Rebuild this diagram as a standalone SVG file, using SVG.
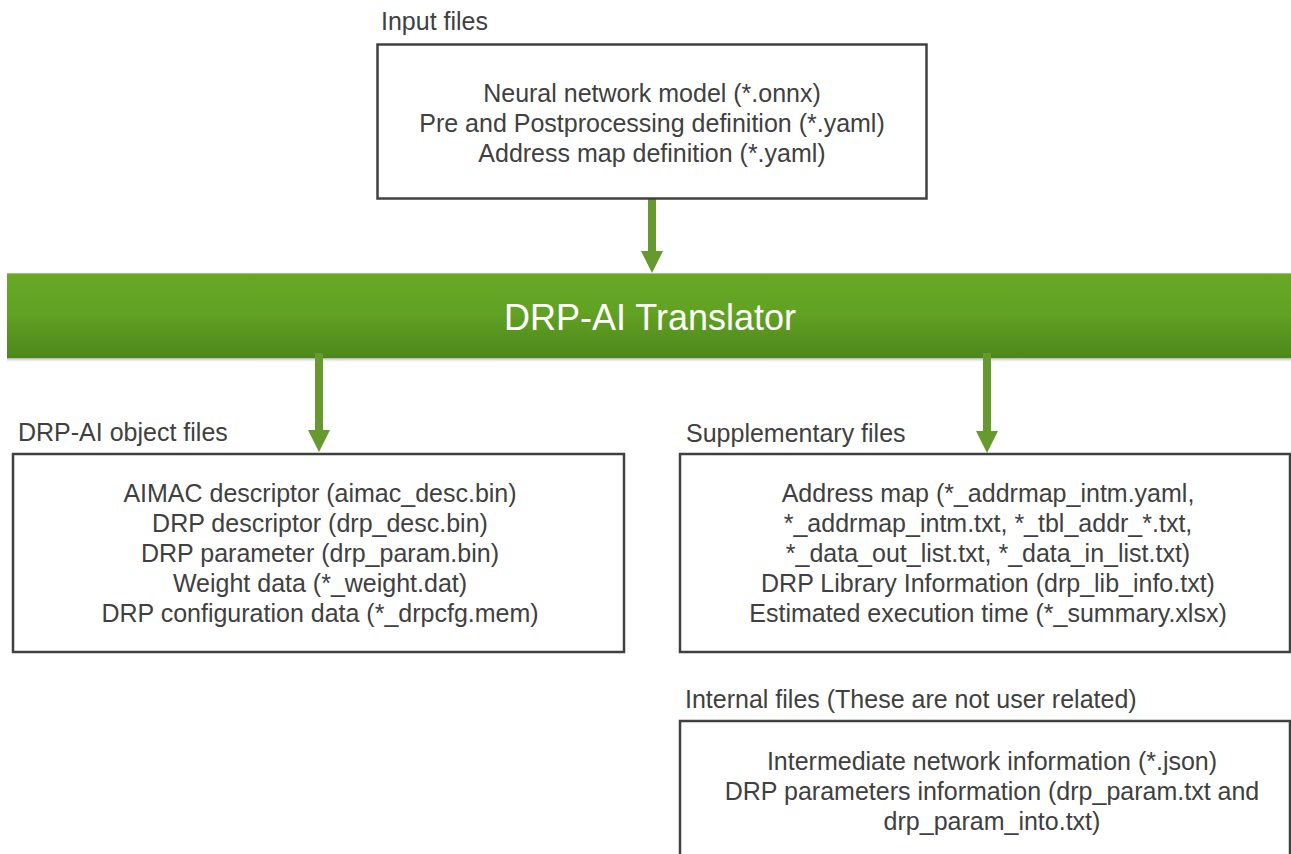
<svg xmlns="http://www.w3.org/2000/svg" width="1291" height="854" viewBox="0 0 1291 854">
<defs>
<linearGradient id="g" x1="0" y1="0" x2="0" y2="1">
<stop offset="0" stop-color="#68a826"/>
<stop offset="0.45" stop-color="#62a223"/>
<stop offset="1" stop-color="#4d871c"/>
</linearGradient>
<linearGradient id="sh" x1="0" y1="0" x2="0" y2="1">
<stop offset="0" stop-color="#b0b0b0"/>
<stop offset="1" stop-color="#ffffff" stop-opacity="0"/>
</linearGradient>
<style>
.box{fill:#fff;stroke:#404040;stroke-width:2.5}
.t{font-family:"Liberation Sans",Arial,sans-serif;font-size:25px;fill:#404040}
.c{text-anchor:middle}
.conn{stroke:#66992e;stroke-width:8;fill:none}
.head{fill:#66992e}
</style>
</defs>
<rect width="1291" height="854" fill="#fff"/>

<g id="translator">
<rect x="7" y="358" width="1284" height="5" fill="url(#sh)"/>
<rect x="7" y="273" width="1284" height="85" fill="url(#g)"/>
<line x1="7" y1="273.5" x2="1291" y2="273.5" stroke="#9cc47a" stroke-width="1"/>
<text x="650" y="330" font-family="Liberation Sans,Arial,sans-serif" font-size="36" fill="#fff" text-anchor="middle">DRP-AI Translator</text>
</g>

<g id="connectors">
<path class="conn" d="M652,199 V252"/>
<path class="head" d="M641,251 L663,251 L652,273 Z"/>
<path class="conn" d="M319,353 V431"/>
<path class="head" d="M308,430 L330,430 L319,452 Z"/>
<path class="conn" d="M987,353 V432"/>
<path class="head" d="M976,431 L998,431 L987,453 Z"/>
</g>

<g id="input">
<text class="t" x="381" y="30">Input files</text>
<rect class="box" x="377.5" y="44.5" width="549" height="154"/>
<text class="t c" x="652" y="102">Neural network model (*.onnx)</text>
<text class="t c" x="652" y="132">Pre and Postprocessing definition (*.yaml)</text>
<text class="t c" x="652" y="162">Address map definition (*.yaml)</text>
</g>

<g id="object">
<text class="t" x="18" y="441">DRP-AI object files</text>
<rect class="box" x="13" y="454" width="611" height="198"/>
<text class="t c" x="320" y="502">AIMAC descriptor (aimac_desc.bin)</text>
<text class="t c" x="320" y="532">DRP descriptor (drp_desc.bin)</text>
<text class="t c" x="320" y="562">DRP parameter (drp_param.bin)</text>
<text class="t c" x="320" y="592">Weight data (*_weight.dat)</text>
<text class="t c" x="320" y="622">DRP configuration data (*_drpcfg.mem)</text>
</g>

<g id="supplementary">
<text class="t" x="686" y="442">Supplementary files</text>
<rect class="box" x="680" y="454" width="610" height="198"/>
<text class="t c" x="988" y="502">Address map (*_addrmap_intm.yaml,</text>
<text class="t c" x="988" y="532">*_addrmap_intm.txt, *_tbl_addr_*.txt,</text>
<text class="t c" x="988" y="562">*_data_out_list.txt, *_data_in_list.txt)</text>
<text class="t c" x="988" y="592">DRP Library Information (drp_lib_info.txt)</text>
<text class="t c" x="988" y="622">Estimated execution time (*_summary.xlsx)</text>
</g>

<g id="internal">
<text class="t" x="685" y="708">Internal files (These are not user related)</text>
<rect class="box" x="680" y="721" width="610" height="150"/>
<text class="t c" x="992" y="770">Intermediate network information (*.json)</text>
<text class="t c" x="992" y="800">DRP parameters information (drp_param.txt and</text>
<text class="t c" x="992" y="830">drp_param_into.txt)</text>
</g>
</svg>
